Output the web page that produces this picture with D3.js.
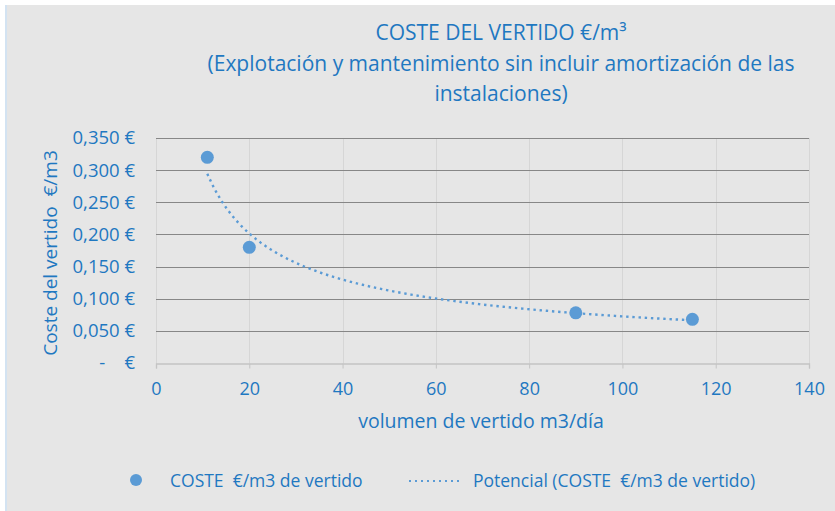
<!DOCTYPE html>
<html lang="es">
<head>
<meta charset="UTF-8">
<script src="https://d3js.org/d3.v7.min.js"></script>
<style>
  body { margin: 0; background: #fff; }
  text { font-family: "Open Sans", sans-serif; fill: #1f78c1; white-space: pre; }
</style>
<title>Coste del vertido</title>
</head>
<body>
<svg id="chart" width="835" height="511"></svg>
<script>
// datos
var volumen = [11, 20, 90, 115];          // m3/dia
var coste = [0.32, 0.18, 0.078, 0.068];  // euro/m3
var xTicks = [0, 20, 40, 60, 80, 100, 120, 140];
var yTicks = [0, 0.05, 0.1, 0.15, 0.2, 0.25, 0.3, 0.35];
var titleLines = ["COSTE DEL VERTIDO €/m³",
                  "(Explotación y mantenimiento sin incluir amortización de las",
                  "instalaciones)"];
var legendLabels = ["COSTE  €/m3 de vertido", "Potencial (COSTE  €/m3 de vertido)"];

var svg = d3.select("#chart");
var blue = "#5b9bd5";

svg.append("rect").attr("x", 6).attr("y", 5).attr("width", 829).attr("height", 506).attr("fill", "#e6e6e6");
svg.append("rect").attr("x", 5).attr("y", 5).attr("width", 2).attr("height", 506).attr("fill", "#d3e3f2");

var m = {left: 156, right: 809, top: 138, bottom: 363};
var x = d3.scaleLinear().domain([0, 140]).range([m.left, m.right]);
var y = d3.scaleLinear().domain([0, 0.35]).range([m.bottom, m.top]);

// rejilla vertical
svg.append("g").selectAll("line").data(xTicks).enter().append("line")
  .attr("x1", d => Math.round(x(d)) + 0.5).attr("x2", d => Math.round(x(d)) + 0.5)
  .attr("y1", m.top).attr("y2", m.bottom)
  .attr("stroke", "#d6d6d6").attr("stroke-width", 1);

// rejilla horizontal
svg.append("g").selectAll("line").data(yTicks.slice(1)).enter().append("line")
  .attr("x1", m.left).attr("x2", m.right)
  .attr("y1", d => Math.round(y(d)) + 0.5).attr("y2", d => Math.round(y(d)) + 0.5)
  .attr("stroke", "#878787").attr("stroke-width", 1.2);

// eje x
var xAxis = svg.append("g").attr("transform", "translate(0," + (m.bottom + 0.5) + ")")
  .call(d3.axisBottom(x).tickValues(xTicks).tickSize(5).tickPadding(14).tickFormat(d3.format("d")));
xAxis.select(".domain").attr("stroke", "#c4c4c4").attr("stroke-width", 1.3);
xAxis.selectAll(".tick line").attr("stroke", "#c4c4c4");
xAxis.selectAll("text").attr("fill", "#1f78c1").style("font-size", "18px").attr("font-family", null);

// eje y (solo etiquetas)
var fmtY = function (d) {
  if (d === 0) return "-    €";
  return d3.format(".3f")(d).replace(".", ",") + " €";
};
svg.append("g").selectAll("text").data(yTicks).enter().append("text")
  .attr("x", 135).attr("y", d => y(d)).attr("dy", "0.35em")
  .attr("text-anchor", "end").style("font-size", "18.5px")
  .text(fmtY);

// linea de tendencia potencial (ajuste por minimos cuadrados en log-log)
var lx = volumen.map(Math.log), ly = coste.map(Math.log);
var mx = d3.mean(lx), my = d3.mean(ly);
var b = d3.sum(lx, (v, i) => (v - mx) * (ly[i] - my)) / d3.sum(lx, v => (v - mx) * (v - mx));
var a = Math.exp(my - b * mx);
var trend = d3.range(0, 101).map(i => {
  var xv = volumen[0] + (volumen[volumen.length - 1] - volumen[0]) * i / 100;
  return [xv, a * Math.pow(xv, b)];
});
svg.append("path").datum(trend)
  .attr("d", d3.line().x(d => x(d[0])).y(d => y(d[1])))
  .attr("fill", "none").attr("stroke", blue).attr("stroke-width", 2.4)
  .attr("stroke-dasharray", "2.4 3.8").attr("stroke-linecap", "butt");

// puntos
svg.append("g").selectAll("circle").data(volumen).enter().append("circle")
  .attr("cx", d => x(d)).attr("cy", (d, i) => y(coste[i])).attr("r", 6.5)
  .attr("fill", blue);

// titulo
svg.append("g").selectAll("text").data(titleLines).enter().append("text")
  .attr("x", 501).attr("y", (d, i) => 40 + i * 30.5)
  .attr("text-anchor", "middle").style("font-size", "21px")
  .text(d => d);

// titulos de ejes
svg.append("text").attr("x", 481).attr("y", 428).attr("text-anchor", "middle")
  .style("font-size", "19.5px").text("volumen de vertido m3/día");
svg.append("text").attr("transform", "translate(57,253) rotate(-90)").attr("text-anchor", "middle")
  .style("font-size", "19px").text("Coste del vertido  €/m3");

// leyenda
svg.append("circle").attr("cx", 136).attr("cy", 480).attr("r", 6).attr("fill", blue);
svg.append("text").attr("x", 170).attr("y", 487).style("font-size", "17.5px").text(legendLabels[0]);
svg.append("line").attr("x1", 409).attr("x2", 462).attr("y1", 481).attr("y2", 481)
  .attr("stroke", blue).attr("stroke-width", 2).attr("stroke-dasharray", "2 4");
svg.append("text").attr("x", 473).attr("y", 487).style("font-size", "17.5px").text(legendLabels[1]);
</script>
</body>
</html>
